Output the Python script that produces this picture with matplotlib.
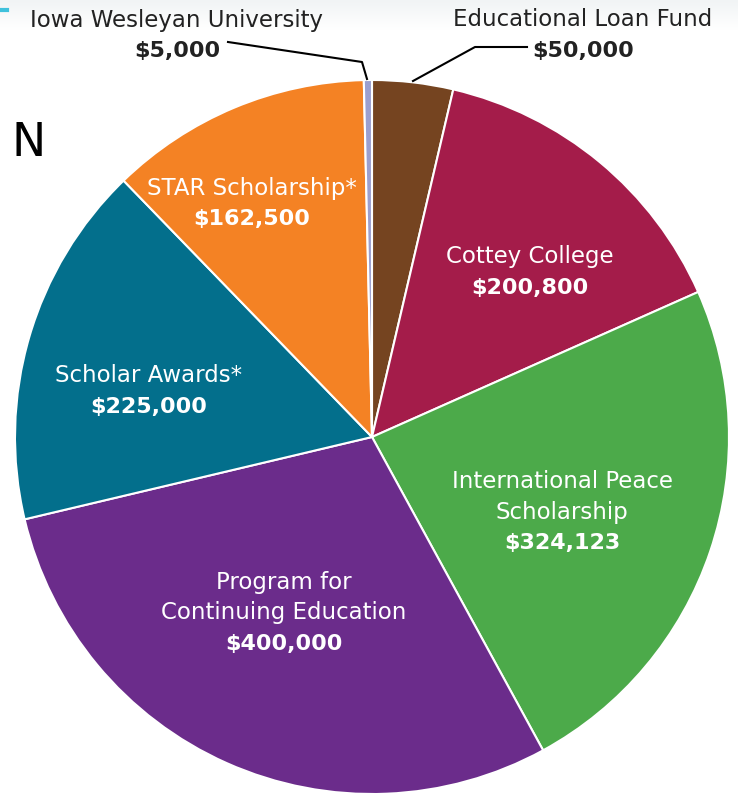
import matplotlib
matplotlib.use("Agg")
import matplotlib.pyplot as plt
import numpy as np

# slices, clockwise from 12 o'clock
names = ["Educational Loan Fund", "Cottey College", "International Peace\nScholarship",
         "Program for\nContinuing Education", "Scholar Awards*", "STAR Scholarship*",
         "Iowa Wesleyan University"]
amounts = [50000, 200800, 324123, 400000, 225000, 162500, 5000]
colors = ["#754420", "#a41c4a", "#4caa4a", "#6b2c8b", "#036f8c", "#f48224", "#9b9fcf"]

plt.rcParams['font.family'] = ['DejaVu Sans']

W, H = 738, 794
fig = plt.figure(figsize=(W / 100, H / 100), dpi=100)
ax = fig.add_axes([0, 0, 1, 1])

# faint grey fade at the top of the slide
grad = np.linspace(1, 0, 50).reshape(-1, 1)
ax.imshow(grad, extent=[0, W, H - 30, H], cmap=matplotlib.colors.LinearSegmentedColormap.from_list(
    "bg", ["#ffffff", "#f1f4f5"]), aspect='auto', zorder=0)

cx, cy, r = 372, H - 437, 357
ax.pie(amounts, colors=colors, startangle=90, counterclock=False, center=(cx, cy), radius=r,
       wedgeprops=dict(edgecolor='white', linewidth=1.5), frame=True)
ax.set_xlim(0, W)
ax.set_ylim(0, H)
ax.set_aspect('equal')
ax.axis('off')

# label layout (pixel coords from top), text colour
spots = [(583, 20, "#222222"), (530, 257, "white"), (562, 481, "white"), (284, 582, "white"),
         (149, 376, "white"), (252, 188, "white"), (177, 20, "#222222")]
for name, amt, (x, y, c) in zip(names, amounts, spots):
    lines = name.split("\n")
    for i, ln in enumerate(lines):
        ax.text(x, H - (y + 31 * i), ln, ha='center', va='center', fontsize=16.5, color=c)
    ax.text(x, H - (y + 31 * len(lines)), "${:,}".format(amt), ha='center', va='center',
            fontsize=16, fontweight='bold', color=c)

# leader lines for the two thin slices
ax.plot([228, 362, 367], [H - 42, H - 62, H - 79], color='black', lw=1.5)
ax.plot([527, 475, 413], [H - 47, H - 47, H - 81], color='black', lw=1.5)

# edge of the slide title and accent bar
ax.text(46, H - 144, "N", ha='right', va='center', fontsize=33, color='black')
ax.plot([0, 7], [H - 10, H - 10], color='#3fc1dc', lw=3)

fig.savefig("out.png", dpi=100)
